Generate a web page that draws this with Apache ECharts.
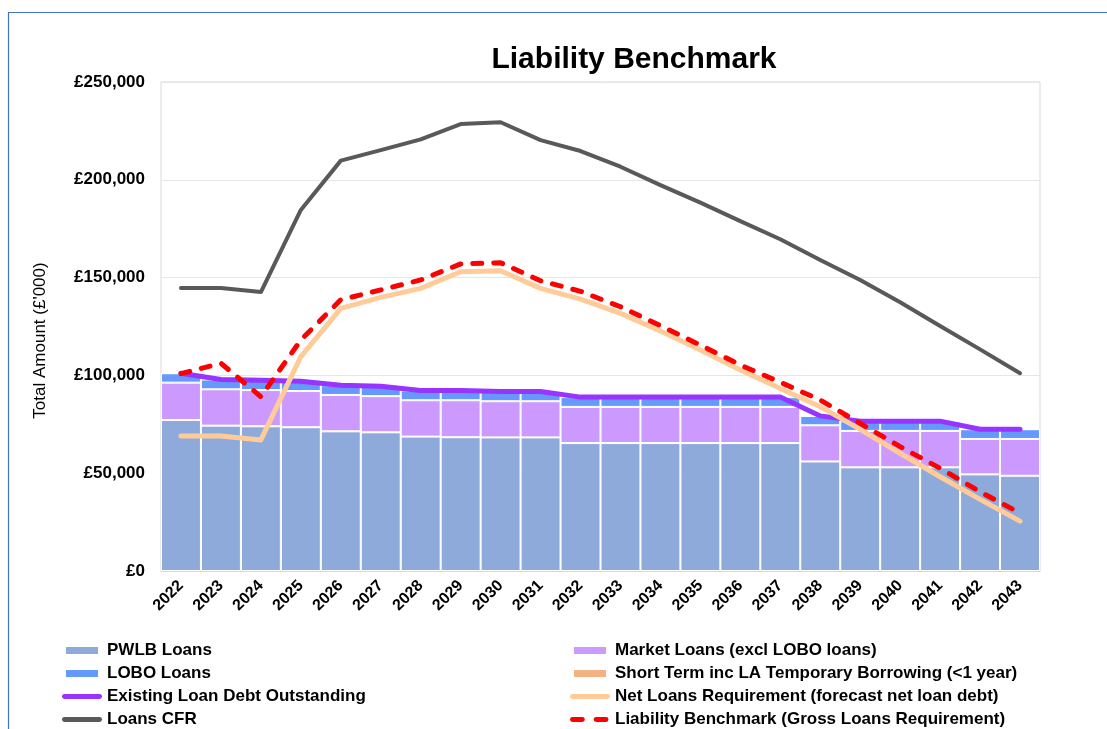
<!DOCTYPE html>
<html>
<head>
<meta charset="utf-8">
<script src="https://cdn.jsdelivr.net/npm/echarts@6/dist/echarts.min.js"></script>
<style>
html,body{margin:0;padding:0;background:#fff;}
#chart{width:1107px;height:729px;}
</style>
</head>
<body>
<div id="chart"></div>
<script>
const years = ['2022','2023','2024','2025','2026','2027','2028','2029','2030','2031','2032','2033','2034','2035','2036','2037','2038','2039','2040','2041','2042','2043'];
const yTicks = [0, 50000, 100000, 150000, 200000, 250000];

const pwlbLoans = [77200,74300,74000,73500,71400,70900,68700,68400,68300,68300,65400,65400,65400,65400,65400,65400,56000,53000,53000,53000,49400,48700];
const marketLoans = [19100,18600,18500,18500,18600,18500,18600,18900,18500,18500,18500,18500,18500,18500,18500,18500,18500,18600,18600,18600,18100,18800];
const loboLoans = [4800,5000,5000,5000,5000,5000,5000,5000,5000,5000,5000,5000,5000,5000,5000,5000,4800,5000,5000,5000,5000,5000];
const shortTerm = [0,0,0,0,0,0,0,0,0,0,0,0,0,0,0,0,0,0,0,0,0,0];
const existingDebt = [101100,97900,97500,97000,95000,94400,92300,92300,91800,91800,88900,88900,88900,88900,88900,88900,79300,76600,76600,76600,72500,72500];
const netLoansReq = [69000,69000,67000,109600,134300,139900,144500,153000,153500,144500,139000,131700,122700,113000,102800,93300,84000,72400,60200,48200,36600,25500];
const loansCFR = [144700,144700,142600,184600,209800,215200,220700,228500,229400,220300,214700,206700,197300,188300,178900,169600,159000,148800,137400,125300,113300,101100];
const liabilityBenchmark = [100900,106200,89100,118100,138700,143700,148800,157000,157600,148400,143000,135100,125400,115500,105300,96500,87400,75500,63600,52500,40500,29600];

const names = {
  pwlb: 'PWLB Loans',
  market: 'Market Loans (excl LOBO loans)',
  lobo: 'LOBO Loans',
  st: 'Short Term inc LA Temporary Borrowing (<1 year)',
  existing: 'Existing Loan Debt Outstanding',
  net: 'Net Loans Requirement (forecast net loan debt)',
  cfr: 'Loans CFR',
  lb: 'Liability Benchmark (Gross Loans Requirement)'
};

const FONT = '"Liberation Sans", Arial, sans-serif';
const chart = echarts.init(document.getElementById('chart'), null, {renderer: 'canvas'});

function barSeries(name, data, color) {
  return {
    name: name, type: 'bar', stack: 'loans', data: data,
    barCategoryGap: '0%',
    itemStyle: {color: color, borderColor: '#ffffff', borderWidth: 1},
    emphasis: {disabled: true}, z: 2
  };
}
function lineSeries(name, data, color, width, type, z) {
  return {
    name: name, type: 'line', data: data, symbol: 'none', showSymbol: false,
    lineStyle: {color: color, width: width, type: type || 'solid', cap: 'round', join: 'round'},
    itemStyle: {color: color},
    emphasis: {disabled: true}, z: z
  };
}

const legendText = {fontFamily: FONT, fontSize: 17, fontWeight: 'bold', color: '#000'};
const barIcon = 'path://M0,0L0,0M40,10L40,10M3,0.5h34v9h-34z';
const lineIcon = 'path://M0,0L0,0M40,10L40,10M2,2.5h36a2.5,2.5 0 0 1 0,5h-36a2.5,2.5 0 0 1 0,-5z';
const dashIcon = 'path://M0,0L0,0M40,10L40,10M2,2.5h10a2.5,2.5 0 0 1 0,5h-10a2.5,2.5 0 0 1 0,-5zM26,2.5h10a2.5,2.5 0 0 1 0,5h-10a2.5,2.5 0 0 1 0,-5z';

const option = {
  animation: false,
  backgroundColor: '#ffffff',
  title: {
    text: 'Liability Benchmark',
    left: 629, top: 40, textAlign: 'center',
    textStyle: {fontFamily: FONT, fontSize: 30, fontWeight: 'bold', color: '#000'}
  },
  graphic: [{
    type: 'rect', left: 6, top: 10, silent: true, z: 100,
    shape: {width: 1200, height: 800},
    style: {fill: 'none', stroke: '#4472c4', lineWidth: 1.2}
  }],
  grid: {
    left: 161, right: 67, top: 82, bottom: 158,
    show: true, borderColor: '#d9d9d9', borderWidth: 1
  },
  legend: [{
    orient: 'vertical', left: 61, top: 642, height: 200, padding: 0, itemGap: 6,
    itemWidth: 40, itemHeight: 10,
    textStyle: legendText,
    data: [
      {name: names.pwlb, icon: barIcon},
      {name: names.lobo, icon: barIcon},
      {name: names.existing, icon: lineIcon},
      {name: names.cfr, icon: lineIcon}
    ]
  }, {
    orient: 'vertical', left: 569, top: 642, height: 200, padding: 0, itemGap: 6,
    itemWidth: 40, itemHeight: 10,
    textStyle: legendText,
    data: [
      {name: names.market, icon: barIcon},
      {name: names.st, icon: barIcon},
      {name: names.net, icon: lineIcon},
      {name: names.lb, icon: dashIcon}
    ]
  }],
  xAxis: {
    type: 'category', data: years,
    axisTick: {show: false},
    axisLine: {lineStyle: {color: '#d9d9d9'}},
    axisLabel: {rotate: 45, interval: 0, margin: 12, fontFamily: FONT, fontSize: 16, fontWeight: 'bold', color: '#000'}
  },
  yAxis: {
    type: 'value', min: yTicks[0], max: yTicks[yTicks.length - 1], interval: yTicks[1] - yTicks[0],
    name: 'Total Amount (£\'000)', nameLocation: 'middle', nameGap: 112, nameRotate: 90,
    nameTextStyle: {fontFamily: FONT, fontSize: 17, color: '#000', padding: [0, 0, 0, -28]},
    axisLine: {show: false}, axisTick: {show: false},
    splitLine: {lineStyle: {color: '#e6e6e6'}},
    axisLabel: {
      margin: 16, fontFamily: FONT, fontSize: 17, fontWeight: 'bold', color: '#000',
      formatter: v => '£' + v.toLocaleString('en-GB')
    }
  },
  series: [
    barSeries(names.pwlb, pwlbLoans, '#8eaadb'),
    barSeries(names.market, marketLoans, '#cc99ff'),
    barSeries(names.lobo, loboLoans, '#6699ff'),
    barSeries(names.st, shortTerm, '#f4b183'),
    lineSeries(names.existing, existingDebt, '#9933ff', 5, 'solid', 5),
    lineSeries(names.net, netLoansReq, '#ffcc99', 5, 'solid', 6),
    lineSeries(names.cfr, loansCFR, '#595959', 4, 'solid', 7),
    lineSeries(names.lb, liabilityBenchmark, '#ff0000', 5, [9, 12], 8)
  ]
};
chart.setOption(option);
</script>
</body>
</html>
